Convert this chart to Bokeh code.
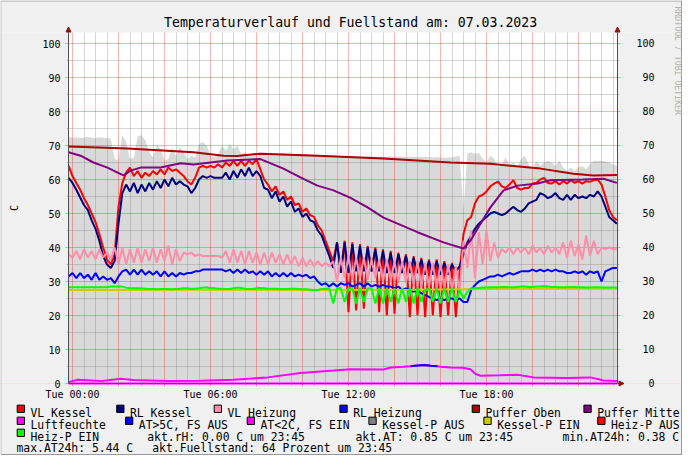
from bokeh.plotting import figure
from bokeh.models import Range1d, FixedTicker, Arrow, NormalHead, LinearAxis
from bokeh.core.properties import value
from bokeh.embed import file_html
from bokeh.resources import INLINE
import numpy as np

MONO = "DejaVu Sans Mono"

# ---------------- data ----------------
# RRD samples every 10 minutes, hours since Tue 00:00
times = [(i - 1) / 6 for i in range(144)]

vl_kessel = [64, 61, 59, 57, 54.5, 52.5, 50, 47.5, 44, 40,
             36.5, 35, 38, 52, 59, 62, 63.5, 61, 62.5, 60.5,
             62, 61, 62.5, 61.5, 63, 61.5, 63.5, 62.5, 63, 62,
             61, 59.5, 58.5, 60.5, 63.5, 64, 63.5, 64, 63.5, 64.5,
             63.5, 65, 64, 65.5, 64, 65.5, 64, 65.5, 64.5, 66,
             63, 60, 58.5, 56.5, 58, 55.5, 56.5, 54, 55, 52.5,
             53, 50.5, 51.5, 49.5, 49, 46.5, 45, 42, 39, 36,
             41.5, 33, 42, 21, 41.5, 21.5, 41, 22, 40.5, 33,
             40, 21, 39.5, 20, 39, 20.5, 38.5, 33, 38, 19.5,
             37.5, 20, 37, 19.5, 36.5, 20, 36.5, 19.5, 36, 20,
             35.5, 19.5, 33, 44, 48, 49, 53, 55, 55.5, 56.5,
             58, 58.8, 59.4, 58, 57.5, 58.5, 59.8, 57.5, 57, 57.5,
             57.5, 58.8, 59, 60, 60.5, 59, 58.8, 59.5, 58.5, 59.5,
             58.8, 59.8, 59, 59.5, 58.8, 59.5, 59.3, 59.8, 60, 58.5,
             55, 51, 49, 48]

rl_kessel = [60.5, 59, 57, 54.7, 52.5, 51, 48, 45.5, 42, 37.5,
             35, 34, 36, 47, 56, 58.5, 56.5, 59, 56, 58.5,
             56.5, 59, 57, 59.5, 57.5, 60, 58, 60.5, 58.5, 59.5,
             58.5, 58, 56, 57.5, 60, 61, 60.5, 61, 60.5, 60.5,
             60.5, 62, 60, 62.5, 60.5, 63, 61, 63.5, 61, 62.5,
             61, 57.5, 57, 54.5, 56.5, 53.5, 55, 52, 53.5, 50.5,
             51.5, 49, 50, 48, 47.5, 45, 43.5, 40.5, 37.5, 34,
             41.5, 32.5, 41.5, 32.5, 41, 33, 40.5, 33, 40, 33,
             39.5, 33, 39, 32.5, 38.5, 32.5, 38, 32.5, 37.5, 32.5,
             37, 32.5, 36.5, 32, 36, 32, 36, 32, 35.5, 32,
             35, 33, 34.5, 38, 41.5, 43.5, 45.5, 47, 48, 49,
             50, 50.5, 50, 49.5, 50, 51, 52, 51, 50.5, 51.5,
             53, 53.5, 54, 56, 55.5, 54.5, 55, 56, 54.5, 54,
             55.5, 54, 55.5, 54.5, 55, 54.5, 55.5, 55, 56.5, 55,
             52, 49, 48, 47]

vl_heizung = [38, 37, 39, 36.5, 39.5, 37, 39, 36.5, 39.5, 37,
              38.5, 36.5, 40, 35, 40, 35, 39.5, 35.5, 40, 35.5,
              39.5, 36, 40, 35.5, 39.5, 36, 40.5, 35, 39.5, 36,
              38.5, 38, 38.5, 37.5, 38, 37.5, 37.5, 37.5, 37.5, 37.5,
              37, 39, 35.5, 39.5, 35.5, 39, 35, 39, 35.5, 38.5,
              35, 38.5, 35, 38.5, 35.5, 38, 35, 38, 35, 37.5,
              34.5, 37, 34.5, 36.5, 34.5, 36, 34.5, 35.5, 34.5, 36,
              30, 37, 31, 37.5, 30.5, 37, 31, 37, 30.5, 36.5,
              31, 36.5, 30, 36.5, 30, 36, 29.5, 36, 29.5, 36,
              29, 36, 28.5, 35.5, 28.5, 35.5, 28, 35.5, 28, 35,
              27.5, 34.5, 27, 42, 34, 45, 31, 44.5, 35, 45,
              36, 41.5, 37, 39.5, 38.5, 40, 38, 40, 38.5, 40,
              38, 40.5, 38.5, 40, 38, 40.5, 38.5, 40, 38, 41.5,
              37, 42, 37.5, 41, 36.5, 43.5, 37.5, 42, 38, 40,
              39.5, 40, 39.5, 39.5]

rl_heizung = [31.5, 32.5, 31, 32.5, 31, 32, 30.5, 32.5, 30.5, 31.5,
              30.5, 31, 29.5, 31.5, 33, 33.5, 32, 33.5, 32, 33.5,
              32, 33, 32, 33, 31.5, 33, 31.5, 32.5, 31.5, 32.5,
              32, 32.5, 32.5, 33, 33, 33.5, 33.5, 33.5, 33.5, 33.5,
              33.5, 33, 33.5, 32.5, 33.5, 32.5, 33.5, 32.5, 33, 32,
              33, 32, 33, 31.5, 32.5, 31.5, 32.5, 31.5, 32.5, 31.5,
              32, 31.5, 32, 31, 31.5, 30, 29, 29.5, 28.5, 29.5,
              28.5, 29.5, 29, 29.5, 28.5, 29, 29.5, 28.5, 29.5, 28.5,
              29, 28.5, 29, 28.5, 28.5, 28, 28.5, 27.5, 28, 27.5,
              27, 27.5, 26.5, 26, 25.5, 25, 24.5, 25, 24.5, 25,
              25, 24.5, 25, 24, 24, 27.5, 29, 30, 30.5, 31,
              31.5, 31.5, 32, 31.5, 32, 32.5, 32, 32.5, 33, 33,
              33, 33.5, 33, 33.5, 33, 33.5, 33, 33.5, 33, 33,
              32.5, 32.5, 33, 32.5, 33, 32, 33, 32.5, 33, 30,
              33, 33.5, 34, 34]

heiz_p_ein = [28.3, 28.3, 28.3, 28.3, 28.3, 28.3, 28.3, 28.3, 28.3, 28.3,
              28.3, 28.5, 28.5, 28.5, 28.5, 28.2, 28, 28, 28, 28,
              27.9, 27.8, 27.8, 27.7, 27.8, 27.8, 27.7, 27.7, 27.8, 27.9,
              28, 28, 27.9, 27.9, 28, 28.2, 28.2, 28.1, 28, 27.9,
              27.9, 27.8, 27.8, 28, 28.2, 28.1, 27.9, 27.8, 27.8, 28,
              28.1, 28, 27.9, 27.9, 27.9, 27.8, 27.8, 27.8, 27.9, 27.9,
              27.8, 27.7, 27.7, 27.6, 27.5, 27.5, 27.8, 27.8, 28, 23.5,
              28, 28, 24, 28, 28, 23.5, 28, 24, 28, 28,
              23.5, 28, 23.5, 28, 24, 28, 23.5, 28, 24, 28,
              23.5, 28, 24, 27.5, 28, 24, 28, 23.5, 28, 24,
              28, 24, 27.5, 25, 27, 28, 28, 28.1, 28.2, 28.2,
              28.3, 28.3, 28.3, 28.4, 28.4, 28.3, 28.3, 28.4, 28.5, 28.5,
              28.4, 28.4, 28.5, 28.5, 28.6, 28.5, 28.4, 28.4, 28.3, 28.3,
              28.3, 28.4, 28.4, 28.3, 28.3, 28.2, 28.2, 28.3, 28.3, 28.2,
              28.2, 28.2, 28.2, 28.2]

# light grey area (upper envelope)
area_top = [72.5, 72.3, 72.4, 72.2, 72.3, 72.5, 72.3, 72.2, 72.4, 72.3,
            72.2, 72.0, 66, 65.5, 73, 71, 66, 66.5, 72.8, 73,
            71.5, 68, 66.5, 70, 69, 65.5, 66, 69.5, 67, 69.5,
            68, 66, 67, 66.5, 70.5, 71, 70, 67, 66.5, 67.5,
            70, 68.5, 70.5, 69, 70, 67.5, 68, 67, 67.3, 67.8,
            67.9, 67.9, 67.8, 67.8, 67.8, 67.7, 67.7, 67.6, 67.6, 67.5,
            67.5, 67.4, 67.4, 67.3, 67.3, 67.2, 67.2, 67.1, 67.1, 67.0,
            67.0, 66.9, 66.9, 66.8, 66.8, 66.8, 66.7, 66.7, 66.8, 66.8,
            66.7, 66.8, 66.7, 66.7, 66.8, 66.7, 66.8, 66.7, 66.6, 66.7,
            66.7, 66.6, 66.7, 66.6, 66.6, 66.5, 66.6, 66.5, 66.4, 66.5,
            66.5, 66.8, 67, 51, 67.5, 68, 67.5, 67.8, 66, 65,
            67, 66, 63.5, 64.5, 66.5, 64, 65, 63.5, 66, 67,
            64.5, 63, 65.5, 64, 65, 65.5, 65, 64, 65.5, 63.5,
            62.5, 63.5, 62.5, 63.5, 64, 63, 64.5, 65.5, 65.5, 65.5,
            65.3, 65, 64.5, 64]

luftfeuchte = [0.0] * 144

oben_t = [-0.17, 2.39, 5.26, 6.57, 7.17, 8.17, 10.65, 13.52, 16.43, 18.17, 20.35, 21.78, 22.65, 23.67]
puffer_oben = [69.7, 69.1, 68.0, 67.0, 66.9, 67.6, 67.0, 66.2, 65.0, 64.6, 63.2, 61.7, 61.2, 61.3]

mitte_t = [-0.17, 0.35, 0.91, 1.52, 1.96, 2.22, 2.52, 2.96, 3.83, 4.7, 5.26, 6.0, 6.74, 8.17,
           9.17, 9.91, 10.65, 11.35, 12.09, 12.83, 13.52, 15.0, 16.13, 17.0, 17.3, 17.74,
           18.17, 18.74, 19.35, 20.22, 20.78, 22.2, 23.09, 23.67]
puffer_mitte = [68, 67, 65, 63.5, 62, 61.2, 62.6, 63.5, 63.5, 64.8, 64.4, 65, 65.6, 66,
                63.2, 60.6, 58.2, 56.8, 54.6, 51.8, 48.8, 44.5, 41.5, 39.7, 42, 47,
                51.8, 56.8, 58.2, 58.8, 59.8, 60, 60.2, 59]

at_t = [-0.17, 0.22, 1.22, 2.09, 2.65, 4.13, 5.57, 7.0, 8.48, 9.91, 11.35, 12.09, 13.52,
        13.83, 14.4, 14.7, 15.0, 15.3, 15.57, 15.87, 16.0, 16.43, 16.96, 17.3, 17.52,
        17.74, 18.61, 19.35, 20.04, 21.52, 22.52, 23.09, 23.67]
aussen = [0.4, 1.1, 0.7, 1.4, 1.0, 0.7, 0.8, 1.1, 1.8, 3.1, 3.8, 4.2, 4.1,
          4.7, 4.9, 5.05, 5.3, 5.44, 5.2, 5.05, 4.9, 4.7, 4.6, 4.2, 2.8,
          2.3, 2.4, 2.6, 1.8, 1.6, 1.8, 0.9, 0.7]

kessel_t = [-0.17, 5.0, 10.0, 15.0, 20.0, 23.67]
kessel_p_ein = [27.5, 27.6, 27.5, 27.6, 27.9, 27.9]

x_major = [0, 2, 4, 6, 8, 10, 12, 14, 16, 18, 20, 22]
x_tick_labels = ["Tue 00:00", "", "", "Tue 06:00", "", "", "Tue 12:00", "", "", "Tue 18:00", "", ""]
y_ticks = [0, 10, 20, 30, 40, 50, 60, 70, 80, 90, 100]

legend_labels = ["VL Kessel", "RL Kessel", "VL Heizung", "RL Heizung", "Puffer Oben", "Puffer Mitte",
                 "Luftfeuchte", "AT>5C, FS AUS", "AT<2C, FS EIN", "Kessel-P AUS", "Kessel-P EIN", "Heiz-P AUS",
                 "Heiz-P EIN"]
legend_colors = ["#ff0000", "#000080", "#ff8ca8", "#0000ff", "#aa0000", "#800080",
                 "#ff00ff", "#0000ff", "#ff00ff", "#808080", "#cccc00", "#ff0000",
                 "#00ff00"]
info_texts = ["akt.rH: 0.00 C um 23:45", "akt.AT: 0.85 C um 23:45", "min.AT24h: 0.38 C",
              "max.AT24h: 5.44 C", "akt.Fuellstand:   64 Prozent um 23:45"]
title_text = "Temperaturverlauf und Fuellstand am: 07.03.2023"
watermark = "RRDTOOL / TOBI OETIKER"
unit_label = "C"

# ---------------- geometry (pixel -> data helpers) ----------------
W, H = 682, 455
PXH = 23.0   # px per hour
PXV = 3.4    # px per degree


def hx(px):
    return (px - 72) / PXH


def vy(py):
    return (383 - py) / PXV


x0, x1 = hx(68), hx(617)      # plot canvas
y0, y1 = 0.0, vy(32)

p = figure(width=W, height=H, x_range=Range1d(hx(0), hx(W)), y_range=Range1d(vy(H), vy(0)),
           output_backend="svg", toolbar_location=None, min_border=0,
           min_border_left=0, min_border_right=0, min_border_top=0, min_border_bottom=0)
p.background_fill_color = "#ffffff"
p.border_fill_color = "#f0f0f0"
p.outline_line_color = None

# grey area below the grid
p.varea(x=times, y1=[0] * 144, y2=area_top, fill_color="#d9d9d9", level="image")

# grid
p.xgrid.ticker = FixedTicker(ticks=x_major, minor_ticks=[h / 2 for h in range(1, 48) if h % 4 != 0])
p.ygrid.ticker = FixedTicker(ticks=y_ticks, minor_ticks=[v + 5 for v in y_ticks[:-1]])
for g in (p.xgrid, p.ygrid):
    g.grid_line_color = "#ff0000"
    g.grid_line_alpha = 0.3
    g.minor_grid_line_color = "#808080"
    g.minor_grid_line_alpha = 0.33

# light background outside the canvas (covers grid lines there)
BG = "#f0f0f0"
p.quad(left=[hx(0), hx(0), hx(0), x1], right=[hx(W), hx(W), x0, hx(W)],
       bottom=[y1, vy(H), y0, y0], top=[vy(0), y0, y1, y1],
       fill_color=BG, line_color=None)
# frame shading of the image
p.line([hx(0), hx(0), hx(W)], [vy(H), vy(0.5), vy(0.5)], line_color="#cbcbcb", line_width=2)
p.line([hx(0.5), hx(W - 0.5), hx(W - 0.5)], [vy(H - 0.5), vy(H - 0.5), vy(0)], line_color="#999999",
       line_width=2)

# data lines (drawing order as in the legend)
lw = 2
p.line(times, vl_kessel, line_color="#ff0000", line_width=lw)
p.line(times, rl_kessel, line_color="#000080", line_width=lw)
p.line(times, vl_heizung, line_color="#ff8ca8", line_width=lw)
p.line(times, rl_heizung, line_color="#0000ff", line_width=lw)
p.line(oben_t, puffer_oben, line_color="#aa0000", line_width=lw)
p.line(mitte_t, puffer_mitte, line_color="#800080", line_width=lw)
p.line(times, luftfeuchte, line_color="#ff00ff", line_width=lw)
p.line(at_t, aussen, line_color="#ff00ff", line_width=lw)
at_hot = [v if v > 5 else np.nan for v in aussen]
p.line(at_t, at_hot, line_color="#0000ff", line_width=lw)
p.line(kessel_t, kessel_p_ein, line_color="#cccc00", line_width=lw)
p.line(times, heiz_p_ein, line_color="#00ff00", line_width=lw)

# axes, drawn at the canvas edges
axis_col = "#505050"
xa = p.xaxis[0]
xa.fixed_location = y0
xa.bounds = (x0, x1)
xa.ticker = FixedTicker(ticks=x_major, minor_ticks=[h / 2 for h in range(1, 48) if h % 4 != 0])
xa.major_label_overrides = dict(zip(x_major, x_tick_labels))
xa.major_tick_out = 3
xa.minor_tick_out = 2
xa.major_label_standoff = 2

ya = p.yaxis[0]
ya.fixed_location = x0
ya.bounds = (y0, y1)
ya.ticker = FixedTicker(ticks=y_ticks, minor_ticks=[v + 5 for v in y_ticks[:-1]])
ya.major_tick_out = 3
ya.minor_tick_out = 2
ya.major_label_standoff = 5

ra = LinearAxis(fixed_location=x1, bounds=(y0, y1),
                ticker=FixedTicker(ticks=y_ticks, minor_ticks=[v + 5 for v in y_ticks[:-1]]))
ra.major_label_overrides = {v: str(v).rjust(3).replace(" ", "\u00a0") for v in y_ticks}
ra.major_tick_out = 3
ra.minor_tick_out = 2
ra.major_label_standoff = 16
p.add_layout(ra, "right")

for ax in (xa, ya, ra):
    ax.axis_line_color = axis_col
    ax.major_tick_line_color = "#ff0000"
    ax.major_tick_line_alpha = 0.35
    ax.minor_tick_line_color = "#808080"
    ax.minor_tick_line_alpha = 0.4
    ax.major_tick_in = 0
    ax.minor_tick_in = 0
    ax.major_label_text_font = MONO
    ax.major_label_text_font_size = "10px"
    ax.major_label_text_color = "#000000"

# arrow heads on the axes
for xs, ys, xe, ye in [(x0, y1, x0, vy(26.5)), (x1, y1, x1, vy(26.5)), (x1, y0, hx(623.5), y0)]:
    p.add_layout(Arrow(end=NormalHead(size=5, fill_color="#8b1010", line_color="#8b1010"),
                       x_start=xs, y_start=ys, x_end=xe, y_end=ye, line_color=axis_col, line_width=1))

# title, unit label, watermark
p.text(x=[hx(163.5)], y=[vy(21.5)], text=[title_text], text_font=value(MONO), text_font_size="13.2px",
       text_align="left", text_baseline="alphabetic", text_color="#000000")
p.text(x=[hx(14)], y=[vy(207.5)], text=[unit_label], text_font=value(MONO), text_font_size="10px",
       text_align="center", text_baseline="middle", angle=np.pi / 2, text_color="#000000")
p.text(x=[hx(677)], y=[vy(6)], text=[watermark], text_font=value(MONO), text_font_size="8.2px",
       text_align="left", text_baseline="middle", angle=-np.pi / 2, text_color="#b0b0b0")

# legend
row_base = [412.0, 424.0, 436.0, 447.5]
text_px = [30, 129.5, 227, 352.7, 485, 596.7,
           30, 138.3, 260, 381.7, 496.7, 610.5,
           30]
text_row = [0] * 6 + [1] * 6 + [2]
p.rect(x=[hx(t - 9.65) for t in text_px], y=[vy(row_base[r] - 3.7) for r in text_row],
       width=7.3, height=7.3, width_units="screen", height_units="screen",
       fill_color=legend_colors, line_color="#000000", line_width=1)
p.text(x=[hx(t) for t in text_px], y=[vy(row_base[r]) for r in text_row], text=legend_labels,
       text_font=value(MONO), text_font_size="11.4px", text_baseline="alphabetic",
       text_align="left", text_color="#000000")
info_px = [146.7, 355, 562, 16, 151.7]
info_row = [2, 2, 2, 3, 3]
p.text(x=[hx(t) for t in info_px], y=[vy(row_base[r]) for r in info_row], text=info_texts,
       text_font=value(MONO), text_font_size="11.4px", text_baseline="alphabetic",
       text_align="left", text_color="#000000")

open("out.html", "w").write(file_html(p, INLINE))
